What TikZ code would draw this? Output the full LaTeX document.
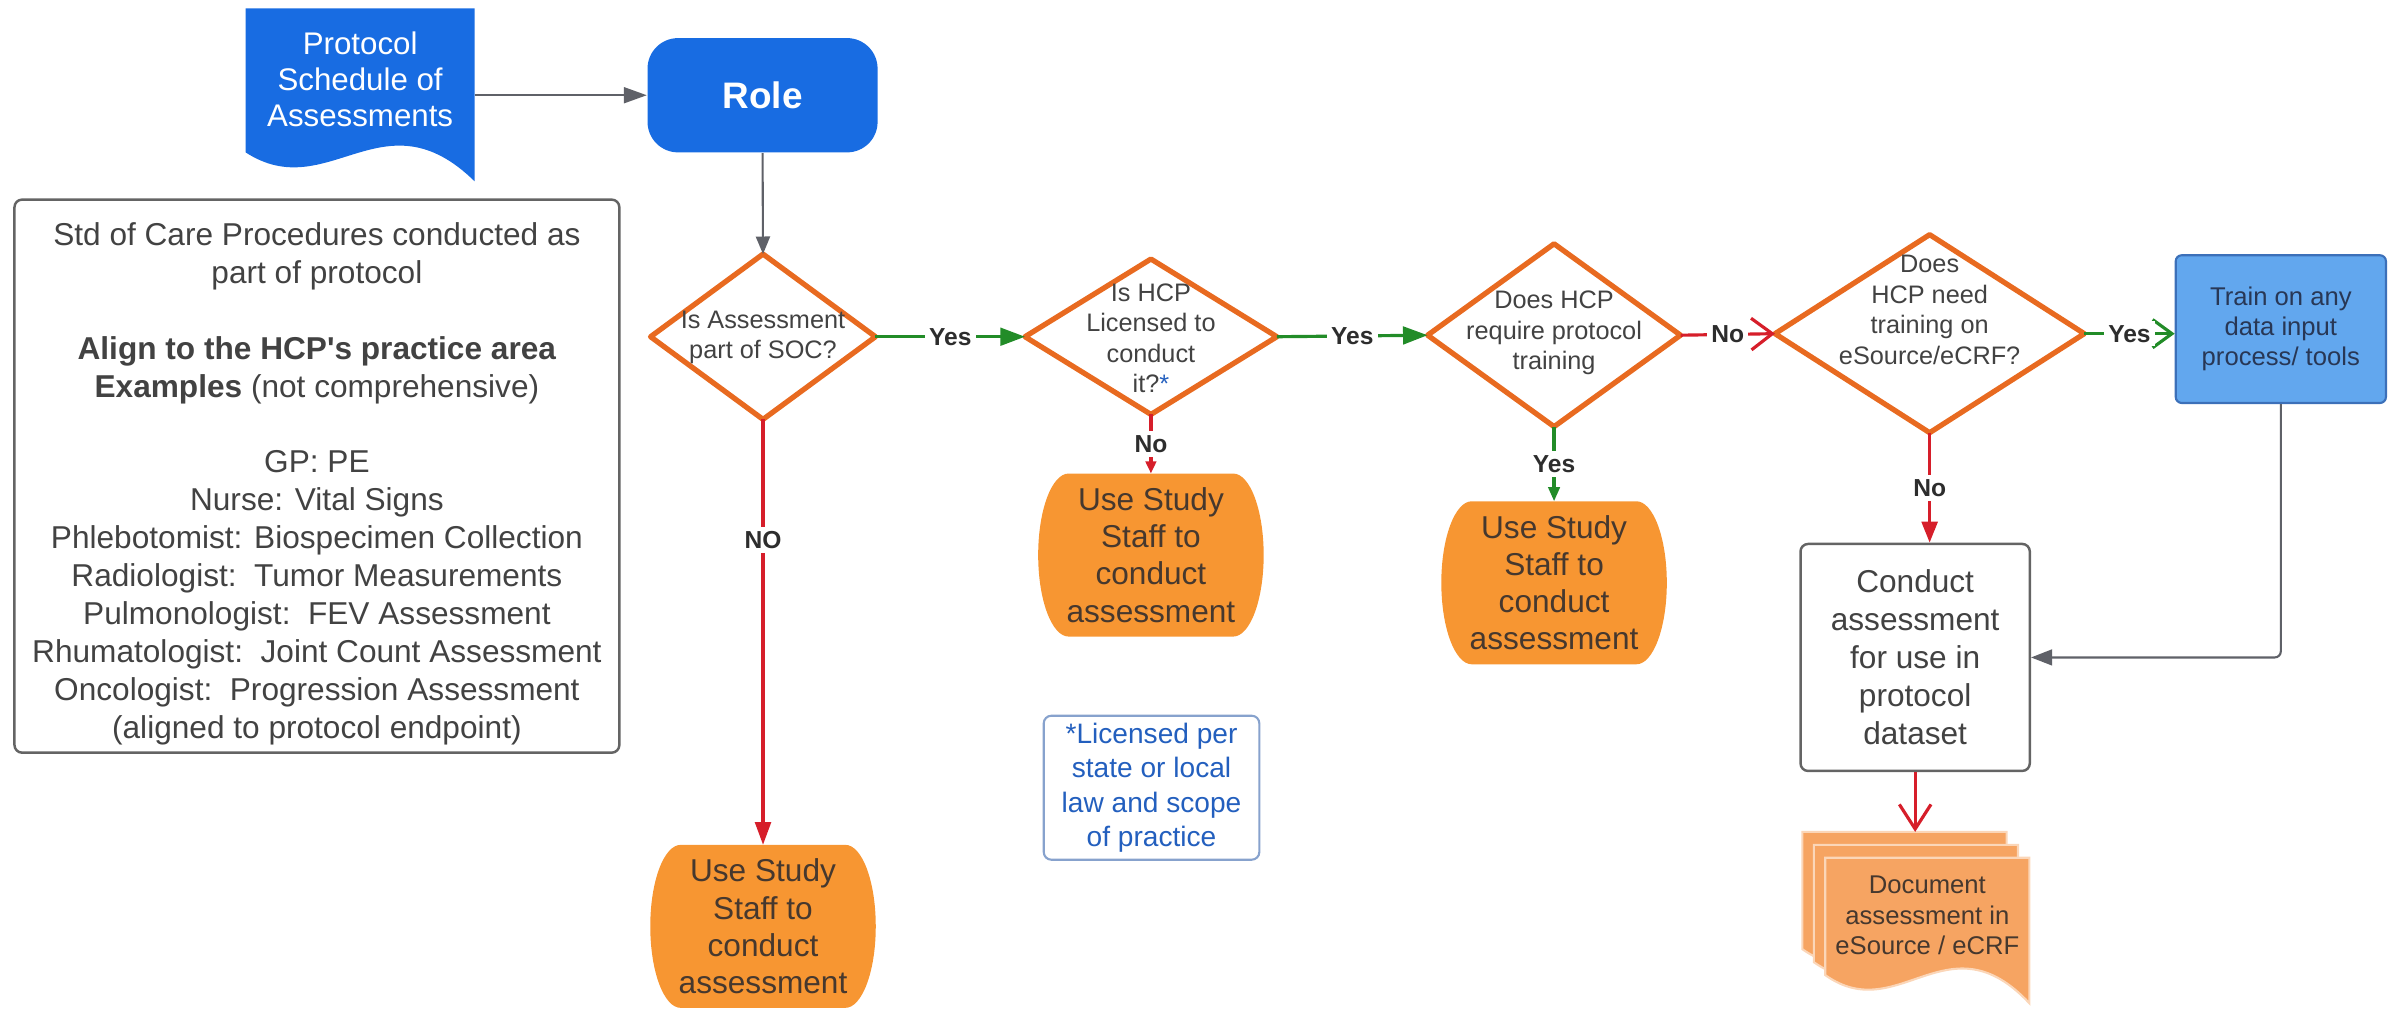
\documentclass[tikz,border=0pt]{standalone}
\usepackage{fontspec}
\setmainfont{Liberation Sans}
\usetikzlibrary{shapes.geometric,arrows.meta,backgrounds}

% drawing unit
\newdimen\U
\U=0.015236cm

\definecolor{roleblue}{RGB}{24,108,226}
\definecolor{trainblue}{RGB}{98,167,238}
\definecolor{trainborder}{RGB}{60,112,185}
\definecolor{traintxt}{RGB}{40,55,85}
\definecolor{dorange}{RGB}{232,106,32}
\definecolor{termorange}{RGB}{247,150,50}
\definecolor{docorange}{RGB}{246,164,98}
\definecolor{termtxt}{RGB}{70,56,46}
\definecolor{linegreen}{RGB}{34,140,40}
\definecolor{linered}{RGB}{214,30,42}
\definecolor{linegray}{RGB}{95,97,104}
\definecolor{txtgray}{RGB}{66,66,66}
\definecolor{socgray}{RGB}{100,100,100}
\definecolor{lblgray}{RGB}{45,45,45}
\definecolor{footblue}{RGB}{35,95,190}
\definecolor{footborder}{RGB}{135,162,205}

% one sheet of a document stack: x, y of the top left corner
\newcommand\docpage[2]{%
  \filldraw[fill=docorange, draw=white!55!docorange, line width=0.6pt]
    (#1,#2+77) -- (#1,#2) -- (#1+134,#2) -- (#1+134,#2+95.5)
    .. controls (#1+80.4,#2+38.15) and (#1+48.2,#2+111.2) .. (#1,#2+77) -- cycle;}

\begin{document}
\begin{tikzpicture}[x=0.015236cm, y=-0.015236cm,
  gconn/.style={draw=linegray, line width=0.6pt},
  gline/.style={draw=linegreen, line width=0.9pt},
  rline/.style={draw=linered, line width=0.9pt},
  diabox/.style={diamond, draw=dorange, line width=1.5pt, line join=round, inner sep=0, outer sep=0},
  diatext/.style={align=center, inner sep=0, text=txtgray, font=\fontsize{7.2}{8.7}\selectfont},
  lbl/.style={fill=white, inner sep=1.2pt, text=lblgray, font=\bfseries\fontsize{7}{8}\selectfont},
  termbox/.style={minimum width=148\U, minimum height=107\U, inner sep=0, outer sep=0,
    align=center, text=termtxt, font=\fontsize{9}{10.6}\selectfont}]
\useasboundingbox (0,0) rectangle (1568,662);

% input document
\fill[roleblue] (161.2,100) -- (161.2,5.5) -- (311.5,5.5) -- (311.5,119)
  .. controls (251.4,60.1) and (215.3,135.15) .. (161.2,100) -- cycle;
\node[inner sep=0, outer sep=0, minimum width=150.3\U, minimum height=113.5\U, anchor=north west] (proto) at (161.2,5.5) {};
\node[align=center, text=white, inner sep=0, font=\fontsize{8.9}{10.2}\selectfont] (prototxt) at (236.4,52) {Protocol\\Schedule of\\Assessments};

% start
\node[fill=roleblue, rounded corners=20\U, minimum width=151\U, minimum height=75\U, inner sep=0,
  text=white, font=\bfseries\fontsize{10.5}{12}\selectfont] (role) at (500.5,62.5) {Role};

% side note on standard of care
\node[draw=socgray, line width=0.7pt, rounded corners=5\U, minimum width=397\U, minimum height=363\U, inner sep=0] (soc) at (208,312.5) {};
\node[align=center, inner sep=0, text=txtgray, font=\fontsize{9}{10.8}\selectfont] (soctxt) at (208,317.5)
  {Std of Care Procedures conducted as\\part of protocol\\[10.8pt]
   \textbf{Align to the HCP\textquotesingle s practice area}\\\textbf{Examples} (not comprehensive)\\[10.8pt]
   GP: PE\\Nurse: Vital Signs\\Phlebotomist: Biospecimen Collection\\
   Radiologist:\ \ Tumor Measurements\\Pulmonologist:\ \ FEV Assessment\\
   Rhumatologist:\ \ Joint Count Assessment\\Oncologist:\ \ Progression Assessment\\
   (aligned to protocol endpoint)};

% decisions
\node[diabox, minimum width=147.6\U, minimum height=108.5\U] (d1) at (500.8,221) {};
\node[diabox, minimum width=165.3\U, minimum height=102\U] (d2) at (755.4,221) {};
\node[diabox, minimum width=166\U, minimum height=120\U] (d3) at (1020,220) {};
\node[diabox, minimum width=203\U, minimum height=130\U] (d4) at (1266.5,219) {};
\node[diatext] (d1t) at (500.8,221.4) {Is Assessment\\part of SOC?};
\node[diatext] (d2t) at (755.4,222) {Is HCP\\Licensed to\\conduct\\it?\textcolor{footblue}{*}};
\node[diatext] (d3t) at (1020,218.7) {Does HCP\\require protocol\\training};
\node[diatext] (d4t) at (1266.5,203.5) {Does\\HCP need\\training on\\eSource/eCRF?};

% outcomes
\node[termbox] (t1) at (500.8,608) {Use Study\\Staff to\\conduct\\assessment};
\node[termbox] (t2) at (755.4,364.3) {Use Study\\Staff to\\conduct\\assessment};
\node[termbox] (t3) at (1020,382.5) {Use Study\\Staff to\\conduct\\assessment};
\begin{scope}[on background layer]
  \foreach \tn in {t1,t2,t3} {
    \fill[termorange] ([xshift=20\U]\tn.north west) -- ([xshift=-20\U]\tn.north east)
      arc[start angle=90, end angle=-90, x radius=20\U, y radius=53.5\U]
      -- ([xshift=20\U]\tn.south west)
      arc[start angle=270, end angle=90, x radius=20\U, y radius=53.5\U] -- cycle;
  }
\end{scope}

\node[fill=trainblue, draw=trainborder, line width=0.6pt, rounded corners=4\U, minimum width=138\U, minimum height=97\U,
  inner sep=0, align=center, text=traintxt, font=\fontsize{7.3}{8.5}\selectfont] (train) at (1497,216)
  {Train on any\\data input\\process/ tools};

\node[draw=socgray, fill=white, line width=0.7pt, rounded corners=5\U, minimum width=150.5\U, minimum height=149\U,
  inner sep=0, align=center, text=txtgray, font=\fontsize{9}{10.8}\selectfont] (conduct) at (1257,431.5)
  {Conduct\\assessment\\for use in\\protocol\\dataset};

\node[draw=footborder, line width=0.6pt, rounded corners=5\U, minimum width=141.5\U, minimum height=94.5\U,
  inner sep=0, align=center, text=footblue, font=\fontsize{8}{9.8}\selectfont] (foot) at (755.8,517)
  {*Licensed per\\state or local\\law and scope\\of practice};

% document stack
\docpage{1183}{546}
\docpage{1190.5}{554.5}
\docpage{1198}{563}
\node[inner sep=0, outer sep=0, minimum width=149\U, minimum height=112.5\U, anchor=north west] (docs) at (1183,546) {};
\node[align=center, inner sep=0, text=termtxt, font=\fontsize{7.3}{8.7}\selectfont] (docstxt) at (1265,601)
  {Document\\assessment in\\eSource / eCRF};

% connectors
\draw[gconn, -{Triangle[length=6.5pt,width=4.5pt]}] (proto.east |- role.west) -- (role.west);
\draw[gconn, -{Triangle[length=5pt,width=4pt]}] (role.south) -- (d1.north);
\draw[gline, -{Triangle[length=7pt,width=5pt]}] (d1.east) -- node[lbl]{Yes} (d2.west);
\draw[gline, -{Triangle[length=7pt,width=5pt]}] (d2.east) -- node[lbl]{Yes} (d3.west);
\draw[rline, -{Straight Barb[length=6pt,width=9pt]}] (d3.east) -- node[lbl]{No} (d4.west);
\draw[gline, -{Straight Barb[length=5.5pt,width=8pt]}] (d4.east) -- node[lbl]{Yes} (d4.east -| train.west);
\draw[rline, -{Triangle[length=6.5pt,width=4.5pt]}] (d1.south) -- node[lbl, pos=0.283]{NO} (t1.north);
\draw[rline, -{Triangle[length=3.5pt,width=3pt]}] (d2.south) -- node[lbl]{No} (t2.north);
\draw[gline, -{Triangle[length=4pt,width=3.2pt]}] (d3.south) -- node[lbl]{Yes} (t3.north);
\draw[rline, -{Triangle[length=6pt,width=4.5pt]}] (d4.south) -- node[lbl]{No} (d4.south |- conduct.north);
\draw[gconn, rounded corners=4\U, -{Triangle[length=6pt,width=4.5pt]}] (train.south) |- (conduct.east);
\draw[rline, -{Straight Barb[length=7pt,width=9pt]}] (conduct.south) -- (conduct.south |- docs.north);
\end{tikzpicture}
\end{document}
